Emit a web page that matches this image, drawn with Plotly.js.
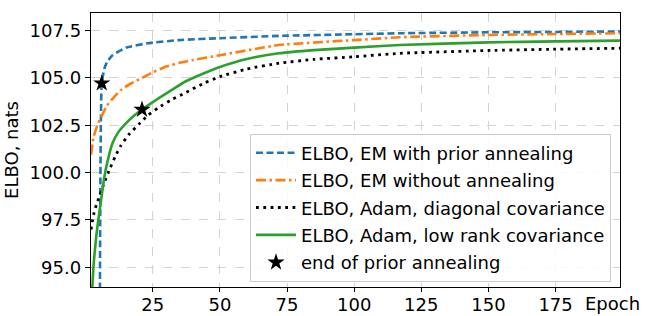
<!DOCTYPE html>
<html><head><meta charset="utf-8">
<script src="https://cdn.plot.ly/plotly-3.0.1.min.js"></script>
<style>html,body{margin:0;padding:0;background:#fff}#chart{width:653px;height:316px}</style>
</head><body><div id="chart"></div>
<script>
// Epochs and ELBO values (nats)
const emPriorEpochs = [5, 6, 7, 8, 10, 15, 23, 35, 50, 72, 100, 117, 150, 175, 199];
const emPriorElbo   = [60, 104.72, 105.5, 105.85, 106.2, 106.6, 106.83, 107.0, 107.1, 107.22, 107.31, 107.36, 107.41, 107.43, 107.45];

const emNoAnnEpochs = [2, 3, 4, 5, 6, 8, 10, 13, 17, 21, 25, 30, 35, 40, 50, 72, 100, 117, 150, 175, 199];
const emNoAnnElbo   = [100.95, 101.9, 102.35, 102.7, 103.0, 103.55, 103.9, 104.35, 104.72, 105.0, 105.3, 105.6, 105.8, 105.95, 106.2, 106.74, 107.0, 107.15, 107.27, 107.32, 107.36];

const adamDiagEpochs = [2, 3, 4, 5, 6, 7, 9, 11, 13, 16, 20, 23, 27, 32, 37, 44, 50, 60, 72, 85, 100, 117, 150, 175, 199];
const adamDiagElbo   = [97.0, 97.8, 98.3, 98.7, 99.1, 99.5, 100.2, 100.85, 101.4, 102.0, 102.58, 103.0, 103.42, 103.85, 104.21, 104.72, 105.07, 105.47, 105.78, 105.98, 106.12, 106.3, 106.45, 106.52, 106.57];

const adamLowEpochs = [2, 3, 4, 5, 6, 7, 8, 10, 12, 15, 18, 21, 25, 28, 33, 37, 45, 50, 60, 72, 85, 100, 117, 150, 175, 199];
const adamLowElbo   = [92.5, 95.2, 96.7, 97.8, 98.8, 99.8, 100.5, 101.55, 102.1, 102.6, 103.0, 103.33, 103.72, 104.0, 104.45, 104.8, 105.3, 105.58, 106.0, 106.3, 106.47, 106.6, 106.74, 106.88, 106.93, 106.97];

const annealEndEpochs = [6, 21];
const annealEndElbo   = [104.72, 103.33];

const seriesNames = ["ELBO, EM with prior annealing", "ELBO, EM without annealing",
  "ELBO, Adam, diagonal covariance", "ELBO, Adam, low rank covariance", "end of prior annealing"];
const xTicks = [25, 50, 75, 100, 125, 150, 175];
const yTicks = [95.0, 97.5, 100.0, 102.5, 105.0, 107.5];

const font = "DejaVu Sans, sans-serif";
const fs = 18;
const traces = [
  {x: emPriorEpochs, y: emPriorElbo, name: seriesNames[0], mode: "lines", legendgroup: "a",
   line: {color: "#1f77b4", width: 2.6, dash: "7px,3.5px", shape: "spline", smoothing: 0.4}},
  {x: emNoAnnEpochs, y: emNoAnnElbo, name: seriesNames[1], mode: "lines", legendgroup: "b",
   line: {color: "#ff7f0e", width: 2.6, dash: "10px,3.5px,2.5px,3.5px", shape: "spline", smoothing: 0.4}},
  {x: adamDiagEpochs, y: adamDiagElbo, name: seriesNames[2], mode: "lines", legendgroup: "c",
   line: {color: "#000000", width: 2.8, dash: "2.8px,4.5px", shape: "spline", smoothing: 0.4}},
  {x: adamLowEpochs, y: adamLowElbo, name: seriesNames[3], mode: "lines", legendgroup: "d",
   line: {color: "#2ca02c", width: 2.6, shape: "spline", smoothing: 0.4}},
  {x: annealEndEpochs, y: annealEndElbo, name: seriesNames[4], mode: "markers", legendgroup: "e",
   marker: {symbol: "star", size: 13, color: "#000000"}}
];

const layout = {
  width: 653, height: 316,
  margin: {l: 91, r: 33, t: 13, b: 29},
  paper_bgcolor: "#ffffff", plot_bgcolor: "#ffffff",
  font: {family: font, size: fs, color: "#000"},
  showlegend: true,
  legend: {x: 0.983, y: 0.02, xanchor: "right", yanchor: "bottom",
    bgcolor: "rgba(255,255,255,0.85)", bordercolor: "#cccccc", borderwidth: 1,
    font: {family: font, size: fs, color: "#000"}, traceorder: "grouped", tracegroupgap: 1,
    itemwidth: 40},
  xaxis: {range: [2, 199], tickvals: xTicks, ticks: "outside", ticklen: 4, tickwidth: 1, tickcolor: "#000",
    showline: true, linecolor: "#000", linewidth: 1.3, mirror: true, zeroline: false,
    showgrid: true, gridcolor: "#d3d3d3", griddash: "dash", gridwidth: 1,
    ticklabelstandoff: -3,
    tickfont: {family: font, size: fs}},
  yaxis: {range: [93.96, 108.43], tickvals: yTicks, ticktext: yTicks.map(v => v.toFixed(1)),
    ticks: "outside", ticklen: 5, tickwidth: 1, tickcolor: "#000",
    showline: true, linecolor: "#000", linewidth: 1.3, mirror: true, zeroline: false,
    showgrid: true, gridcolor: "#d3d3d3", griddash: "dash", gridwidth: 1,
    tickfont: {family: font, size: fs},
    title: {text: "ELBO, nats", font: {family: font, size: fs}, standoff: 6}},
  annotations: [{text: "Epoch", xref: "paper", yref: "paper", x: 0.93, y: 0, xanchor: "left", yanchor: "top",
    yshift: -4, showarrow: false, font: {family: font, size: fs, color: "#000"}}]
};
Plotly.newPlot("chart", traces, layout, {displayModeBar: false, staticPlot: true});
</script></body></html>
